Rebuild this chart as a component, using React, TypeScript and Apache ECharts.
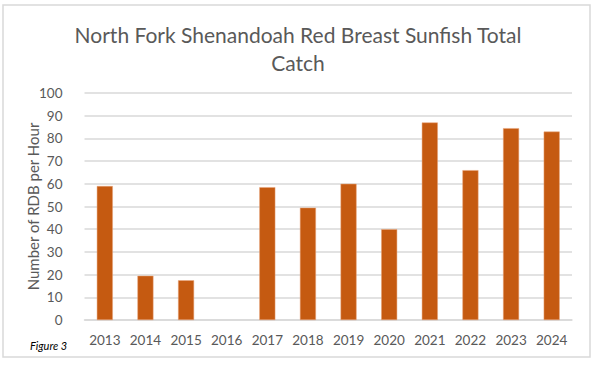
import React, { useEffect, useRef } from "react";
import * as echarts from "echarts";

const years = ["2013", "2014", "2015", "2016", "2017", "2018", "2019", "2020", "2021", "2022", "2023", "2024"];
const catchPerHour: (number | null)[] = [59, 19.5, 17.5, null, 58.5, 49.5, 60, 40, 87, 66, 84.5, 83];
const titleText = "North Fork Shenandoah Red Breast Sunfish Total\nCatch";
const yAxisName = "Number of RDB per Hour";
const figureLabel = "Figure 3";

export default function App() {
  const ref = useRef<HTMLDivElement>(null);
  useEffect(() => {
    if (!ref.current) return;
    const chart = echarts.init(ref.current, undefined, { renderer: "svg" });
    const font = "Lato, 'Open Sans', sans-serif";
    chart.setOption({
      animation: false,
      backgroundColor: "#ffffff",
      grid: { left: 84.5, right: 28, top: 93, bottom: 45 },
      xAxis: {
        type: "category",
        data: years,
        axisLine: { lineStyle: { color: "#d9d9d9", width: 1.5 } },
        axisTick: { show: false },
        axisLabel: { fontFamily: font, fontSize: 13.5, color: "#595959", margin: 13, interval: 0 },
      },
      yAxis: {
        type: "value",
        min: 0,
        max: 100,
        interval: 10,
        name: yAxisName,
        nameLocation: "middle",
        nameGap: 44,
        nameMoveOverlap: false,
        nameTextStyle: { fontFamily: font, fontSize: 15, color: "#595959" },
        axisLine: { show: false },
        axisTick: { show: false },
        axisLabel: { fontFamily: font, fontSize: 13.5, color: "#595959", margin: 22 },
        splitLine: { lineStyle: { color: "#d9d9d9", width: 1.5 } },
      },
      series: [
        {
          type: "bar",
          data: catchPerHour,
          barWidth: 16,
          itemStyle: { color: "#c55a11", borderColor: "#e8a47a", borderWidth: 0.5 },
        },
      ],
      graphic: [
        {
          type: "rect",
          shape: { x: 3, y: 5, width: 587, height: 352 },
          style: { fill: "none", stroke: "#d9d9d9", lineWidth: 1.5 },
          silent: true,
        },
        {
          type: "text",
          x: 298,
          y: 20,
          style: {
            text: titleText,
            fontFamily: font,
            fontSize: 21,
            lineHeight: 28,
            fill: "#595959",
            textAlign: "center",
            textVerticalAlign: "top",
          },
        },
        {
          type: "text",
          x: 30,
          y: 345,
          style: {
            text: figureLabel,
            fontFamily: font,
            fontSize: 11,
            fontStyle: "italic",
            fill: "#000000",
            textVerticalAlign: "middle",
          },
        },
      ],
    });
    return () => chart.dispose();
  }, []);
  return (
    <div
      ref={ref}
      style={{ position: "absolute", left: 0, top: 0, width: 600, height: 365 }}
    />
  );
}
